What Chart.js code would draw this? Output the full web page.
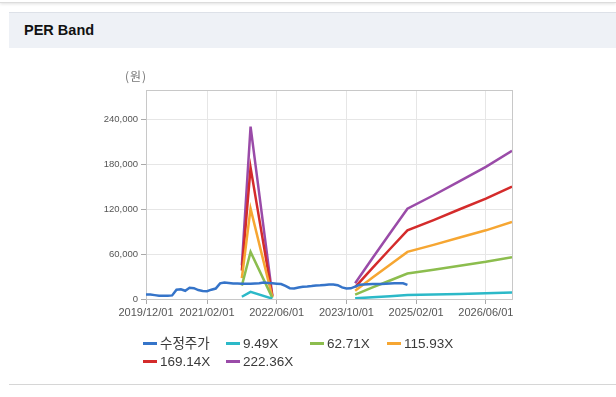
<!DOCTYPE html>
<html>
<head>
<meta charset="utf-8">
<script src="https://cdn.jsdelivr.net/npm/chart.js@4.4.1/dist/chart.umd.min.js"></script>
<style>
  html, body { margin: 0; padding: 0; background: #fff; }
  body { width: 616px; height: 397px; position: relative; overflow: hidden; font-family: "Liberation Sans", "Noto Sans CJK KR", sans-serif; }
  #topEdge { position: absolute; left: 0; right: 0; top: -10px; height: 12px; border-bottom: 1px solid #dcdcdc; box-shadow: 0 1px 3px rgba(0,0,0,0.12); }
  #header { position: absolute; left: 9px; right: 0; top: 12px; height: 35px; background: #eef1f6; border-top: 1px solid #dde1e8; }
  #header h3 { margin: 0; position: absolute; left: 15px; top: 9px; font-size: 14.5px; font-weight: bold; color: #111; }
  #unit { position: absolute; left: 125px; top: 67px; font-size: 12px; color: #777; letter-spacing: 1px; font-family: "Noto Sans CJK KR", sans-serif; }
  #chartWrap { position: absolute; left: 0; top: 0; }
  #perBand-legend { position: absolute; left: 143px; top: 335px; }
  #perBand-legend ul { list-style: none; margin: 0; padding: 0; display: grid; grid-template-columns: 83px 84px 77px 80px; }
  #perBand-legend li { height: 18px; line-height: 18px; font-size: 13.5px; color: #3a3a3a; white-space: nowrap; }
  #perBand-legend li span { display: inline-block; width: 14px; height: 3px; vertical-align: middle; margin-right: 3px; position: relative; top: -1px; }
  #bottomEdge { position: absolute; left: 9px; right: 0; top: 384px; height: 0; border-top: 1px solid #d6d6d6; }
</style>
</head>
<body>
<div id="topEdge"></div>
<div id="header"><h3>PER Band</h3></div>
<div id="chartWrap"><canvas id="perBand" width="616" height="397"></canvas></div>
<div id="unit">(원)</div>
<div id="perBand-legend"></div>
<div id="bottomEdge"></div>
<script>
(function () {
  'use strict';

  // months 2019/12 .. 2026/12
  const months = [];
  for (let y = 2019, m = 12; months.length < 85;) {
    months.push(y + '/' + String(m).padStart(2, '0') + '/01');
    m++;
    if (m > 12) { m = 1; y++; }
  }

  const tickLabels = ['2019/12/01', '2021/02/01', '2022/06/01', '2023/10/01', '2025/02/01', '2026/06/01'];
  const yTicks = [0, 60000, 120000, 180000, 240000];

  // 수정주가, monthly from 2019/12
  const priceValues = [6000, 6000, 5200, 4400, 4300, 4300, 4800, 12500, 13000, 11000,
    15000, 14500, 12000, 10800, 10500, 12500, 14000, 21000, 22000, 21500,
    20800, 20800, 20500, 20500, 20500, 20800, 21000, 22000, 21500, 21000,
    20500, 20000, 17500, 14500, 14200, 15500, 16500, 16800, 17300, 18000,
    18300, 18800, 19300, 19500, 18500, 15500, 14200, 14300, 16500, 19000,
    19500, 19800, 20000, 20000, 20200, 20500, 20800, 21000, 21000, 21000, 19000];

  const bandDates = ['2021/10/01', '2021/12/01', '2022/05/01', '2023/06/01', '2023/12/01', '2024/04/01',
    '2024/08/01', '2024/12/01', '2025/06/01', '2025/12/01', '2026/06/01', '2026/12/01'];
  const band949 = [3000, 9500, 500, null, 900, 2300, 3800, 5200, 5900, 6700, 7600, 8800];
  const band6271 = [18000, 63000, 1500, null, 5900, 15500, 24800, 34100, 39200, 44600, 49800, 56000];
  const band11593 = [28000, 121000, 2500, null, 11000, 28700, 45900, 63100, 72500, 82400, 92000, 103200];
  const band16914 = [38000, 176000, 3500, null, 16000, 41800, 67000, 92000, 105700, 120200, 134500, 150600];
  const band22236 = [45000, 231000, 4500, null, 21000, 55000, 88000, 121000, 139000, 158000, 177000, 198500];

  function monthIndex(s) {
    const p = s.split('/').map(Number);
    return (p[0] - 2019) * 12 + (p[1] - 12) + (p[2] - 1) / 30;
  }

  function points(dates, values) {
    return values.map(function (v, i) { return { x: monthIndex(dates[i]), y: v }; });
  }

  function line(label, color, data) {
    return {
      label: label,
      data: data,
      borderColor: color,
      backgroundColor: color,
      borderWidth: 2.5,
      pointRadius: 0,
      tension: 0,
      fill: false
    };
  }

  const ctx = document.getElementById('perBand');
  const chart = new Chart(ctx, {
    type: 'line',
    data: {
      datasets: [
        line('수정주가', '#3574c9', points(months, priceValues)),
        line('9.49X', '#2cb9c8', points(bandDates, band949)),
        line('62.71X', '#8cbd4e', points(bandDates, band6271)),
        line('115.93X', '#f6a632', points(bandDates, band11593)),
        line('169.14X', '#d42b2b', points(bandDates, band16914)),
        line('222.36X', '#9a4ba8', points(bandDates, band22236))
      ]
    },
    options: {
      responsive: false,
      animation: false,
      layout: { padding: { left: 90, top: 90, right: 104, bottom: 76 } },
      scales: {
        x: {
          type: 'linear',
          min: 0,
          max: monthIndex(months[months.length - 1]),
          afterBuildTicks: function (axis) {
            axis.ticks = tickLabels.map(function (l) { return { value: monthIndex(l) }; });
          },
          afterFit: function (scale) { scale.height = 22; },
          border: { display: true, color: '#c8c8c8' },
          grid: { color: '#e6e6e6', tickColor: '#aaa', tickLength: 5 },
          ticks: {
            autoSkip: false,
            maxRotation: 0,
            padding: 2,
            color: '#555',
            font: { size: 11, family: '"Liberation Sans", sans-serif' },
            callback: function (v) {
              const l = tickLabels.find(function (t) { return Math.abs(monthIndex(t) - v) < 0.01; });
              return l || '';
            }
          }
        },
        y: {
          min: 0,
          max: 280000,
          afterBuildTicks: function (axis) {
            axis.ticks = yTicks.map(function (v) { return { value: v }; });
          },
          afterFit: function (scale) { scale.width = 56; },
          border: { display: true, color: '#c8c8c8' },
          grid: { color: '#e6e6e6', tickColor: '#aaa', tickLength: 5 },
          ticks: {
            autoSkip: false,
            padding: 3,
            color: '#555',
            font: { size: 9.5, family: '"Liberation Sans", sans-serif' },
            callback: function (v) { return v.toLocaleString('en-US'); }
          }
        }
      },
      plugins: {
        legend: { display: false },
        tooltip: { enabled: false }
      }
    },
    plugins: [{
      beforeDatasetsDraw: function (chart) {
        const a = chart.chartArea;
        const c = chart.ctx;
        c.save();
        c.strokeStyle = '#c8c8c8';
        c.lineWidth = 1;
        c.strokeRect(Math.round(a.left) + 0.5, Math.round(a.top) + 0.5, Math.round(a.right - a.left), Math.round(a.bottom - a.top));
        c.restore();
      }
    }]
  });

  // html legend
  const ul = document.createElement('ul');
  chart.data.datasets.forEach(function (ds) {
    ul.innerHTML += '<li><span style="background-color: ' + ds.borderColor + '"></span>' + ds.label + '</li>';
  });
  document.getElementById('perBand-legend').appendChild(ul);
})();
</script>
</body>
</html>
